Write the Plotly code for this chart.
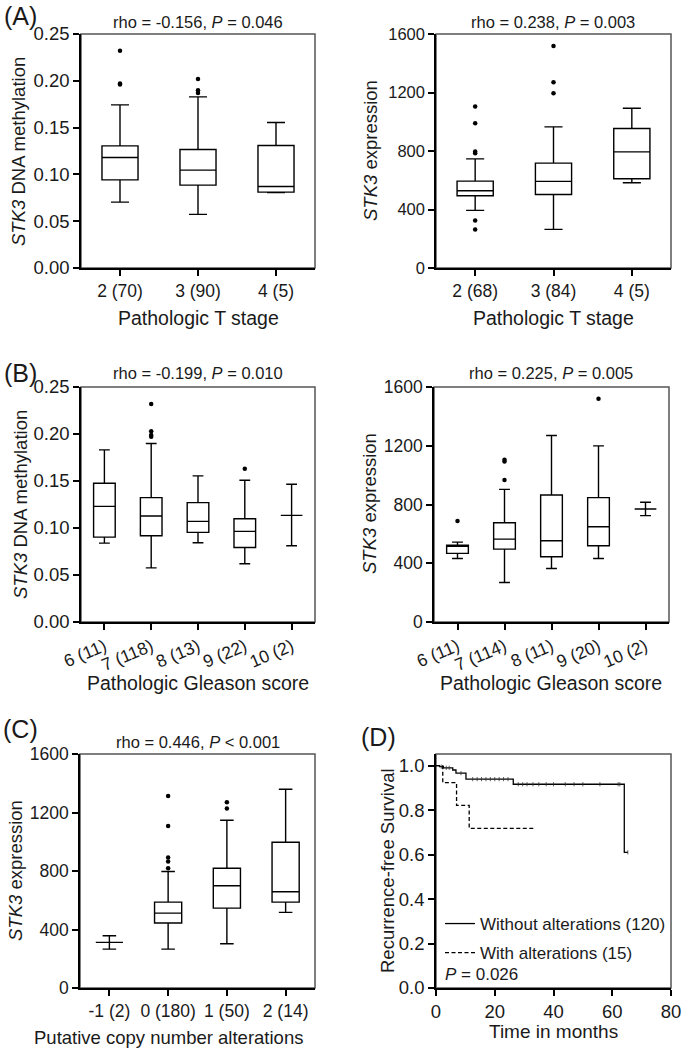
import plotly.graph_objects as go

W, H = 684, 1053
FONT = "Liberation Sans, Arial, sans-serif"

# ---- (A) Pathologic T stage ----
t_meth_cats = ["2 (70)", "3 (90)", "4 (5)"]
t_meth_lo = [0.0704, 0.0573, 0.0805]
t_meth_q1 = [0.0942, 0.0885, 0.0811]
t_meth_med = [0.1180, 0.1046, 0.0871]
t_meth_q3 = [0.1305, 0.1266, 0.1309]
t_meth_hi = [0.1743, 0.1828, 0.1554]
t_meth_out_x = ["2 (70)", "2 (70)", "2 (70)", "3 (90)", "3 (90)", "3 (90)"]
t_meth_out_y = [0.232, 0.197, 0.196, 0.202, 0.190, 0.187]

t_expr_cats = ["2 (68)", "3 (84)", "4 (5)"]
t_expr_lo = [394, 264, 583]
t_expr_q1 = [494, 503, 610]
t_expr_med = [528, 592, 794]
t_expr_q3 = [594, 717, 954]
t_expr_hi = [746, 965, 1092]
t_expr_out_x = ["2 (68)"] * 6 + ["3 (84)"] * 3
t_expr_out_y = [1104, 990, 796, 785, 325, 264, 1518, 1270, 1195]

# ---- (B) Pathologic Gleason score ----
g_meth_cats = ["6 (11)", "7 (118)", "8 (13)", "9 (22)", "10 (2)"]
g_meth_lo = [0.0839, 0.0576, 0.0843, 0.0619, 0.0811]
g_meth_q1 = [0.0903, 0.0917, 0.0953, 0.0793, 0.1134]
g_meth_med = [0.1230, 0.1127, 0.1070, 0.0964, 0.1134]
g_meth_q3 = [0.1476, 0.1323, 0.1270, 0.1099, 0.1134]
g_meth_hi = [0.1831, 0.1899, 0.1554, 0.1508, 0.1465]
g_meth_out_x = ["7 (118)"] * 4 + ["9 (22)"]
g_meth_out_y = [0.232, 0.203, 0.199, 0.197, 0.163]

g_expr_cats = ["6 (11)", "7 (114)", "8 (11)", "9 (20)", "10 (2)"]
g_expr_lo = [432, 269, 364, 432, 724]
g_expr_q1 = [467, 496, 444, 519, 769]
g_expr_med = [517, 564, 553, 649, 769]
g_expr_q3 = [523, 676, 865, 847, 769]
g_expr_hi = [544, 903, 1270, 1199, 815]
g_expr_out_x = ["6 (11)", "7 (114)", "7 (114)", "7 (114)", "9 (20)"]
g_expr_out_y = [687, 1104, 1092, 967, 1520]

# ---- (C) Putative copy number alterations ----
cna_cats = ["-1 (2)", "0 (180)", "1 (50)", "2 (14)"]
cna_lo = [266, 266, 303, 517]
cna_q1 = [312, 444, 546, 587]
cna_med = [312, 512, 699, 658]
cna_q3 = [312, 587, 819, 997]
cna_hi = [357, 797, 1147, 1359]
cna_out_x = ["0 (180)"] * 5 + ["1 (50)"] * 2
cna_out_y = [1313, 1108, 892, 865, 819, 1270, 1227]

# ---- (D) Kaplan-Meier ----
km_without_t = [0, 1.2, 2.5, 5.7, 6.8, 10.2, 26.3, 64.1, 65.3]
km_without_s = [1.0, 0.995, 0.99, 0.98, 0.966, 0.939, 0.916, 0.61, 0.61]
km_without_cens_t = [1.8, 3.5, 4.5, 8.5, 12.5, 14, 15.5, 17, 18.5, 20, 21.5, 23, 24.5,
                     28, 29.5, 31, 33, 35, 37.5, 40, 44, 47, 50, 55.8, 62, 62.6, 65.3]
km_with_t = [0, 2.3, 7.0, 11.3, 33.8]
km_with_s = [1.0, 0.923, 0.821, 0.718, 0.718]

titles = ["rho = -0.156, <i>P</i> = 0.046", "rho = 0.238, <i>P</i> = 0.003",
          "rho = -0.199, <i>P</i> = 0.010", "rho = 0.225, <i>P</i> = 0.005",
          "rho = 0.446, <i>P</i> < 0.001"]


def dom(x0, x1, y0, y1):
    return [x0 / W, x1 / W], [1 - y1 / H, 1 - y0 / H]


# plot areas in pixels: (left, right, top, bottom)
areas = [(81, 315, 34, 268), (436, 671, 34, 268),
         (81, 315, 387, 622), (434, 669, 387, 622),
         (80, 315, 754, 988), (436, 671, 754, 988)]

fig = go.Figure()

panels = [
    (t_meth_cats, t_meth_lo, t_meth_q1, t_meth_med, t_meth_q3, t_meth_hi, t_meth_out_x, t_meth_out_y),
    (t_expr_cats, t_expr_lo, t_expr_q1, t_expr_med, t_expr_q3, t_expr_hi, t_expr_out_x, t_expr_out_y),
    (g_meth_cats, g_meth_lo, g_meth_q1, g_meth_med, g_meth_q3, g_meth_hi, g_meth_out_x, g_meth_out_y),
    (g_expr_cats, g_expr_lo, g_expr_q1, g_expr_med, g_expr_q3, g_expr_hi, g_expr_out_x, g_expr_out_y),
    (cna_cats, cna_lo, cna_q1, cna_med, cna_q3, cna_hi, cna_out_x, cna_out_y),
]

for i, (cats, lo, q1, med, q3, hi, ox, oy) in enumerate(panels):
    n = "" if i == 0 else str(i + 1)
    fig.add_trace(go.Box(x=cats, q1=q1, median=med, q3=q3, lowerfence=lo, upperfence=hi,
                         xaxis="x" + n, yaxis="y" + n, boxpoints=False, whiskerwidth=0.5,
                         line=dict(color="black", width=1.4), fillcolor="white",
                         showlegend=False, hoverinfo="skip"))
    fig.add_trace(go.Scatter(x=ox, y=oy, mode="markers", xaxis="x" + n, yaxis="y" + n,
                             marker=dict(color="black", size=4.5), showlegend=False,
                             hoverinfo="skip"))

# KM curves
fig.add_trace(go.Scatter(x=km_without_t, y=km_without_s, mode="lines", line_shape="hv",
                         line=dict(color="black", width=1.3), xaxis="x6", yaxis="y6",
                         name="Without alterations (120)", legendgroup="a"))
fig.add_trace(go.Scatter(x=km_with_t, y=km_with_s, mode="lines", line_shape="hv",
                         line=dict(color="black", width=1.3, dash="4px,2.5px"),
                         xaxis="x6", yaxis="y6",
                         name="With alterations (15)", legendgroup="b"))
cens_y = []
for ct in km_without_cens_t:
    s = km_without_s[0]
    for tt, ss in zip(km_without_t, km_without_s):
        if tt <= ct:
            s = ss
    cens_y.append(s)
fig.add_trace(go.Scatter(x=km_without_cens_t, y=cens_y, mode="markers", xaxis="x6", yaxis="y6",
                         marker=dict(symbol="line-ns", size=3, line=dict(color="#333", width=0.8)),
                         showlegend=False, hoverinfo="skip"))

axis_common = dict(showline=True, linecolor="black", linewidth=1.5, ticks="outside",
                   ticklen=6, tickwidth=1.5, tickcolor="black", showgrid=False,
                   zeroline=False, fixedrange=True, automargin=False)
tick_sizes = [18.5, 16.5, 18.5, 17.5, 17.5, 18.5]

layout = dict(width=W, height=H,
              margin=dict(l=0, r=0, t=0, b=0, pad=0, autoexpand=False),
              paper_bgcolor="white", plot_bgcolor="white", boxgap=0.34,
              font=dict(family=FONT, color="#1a1a1a"),
              showlegend=True,
              legend=dict(x=440 / W, y=1 - 906 / H, xanchor="left", yanchor="top",
                          bgcolor="rgba(0,0,0,0)", font=dict(family=FONT, size=17),
                          tracegroupgap=4, itemwidth=30))

yranges = [[0, 0.25], [0, 1600], [0, 0.25], [0, 1600], [0, 1600]]
ydticks = [0.05, 400, 0.05, 400, 400]
yfmts = [".2f", "d", ".2f", "d", "d"]
shapes = []
for i in range(6):
    l, r, t, b = areas[i]
    xd, yd = dom(l, r, t, b)
    n = "" if i == 0 else str(i + 1)
    tf = dict(family=FONT, size=tick_sizes[i], color="#1a1a1a")
    xf = dict(family=FONT, size=17.5, color="#1a1a1a")
    if i < 5:
        cats = panels[i][0]
        layout["xaxis" + n] = dict(axis_common, domain=xd, anchor="y" + n, type="category",
                                   categoryorder="array", categoryarray=cats,
                                   range=[-0.5, len(cats) - 0.5], tickfont=xf,
                                   tickangle=-23 if i in (2, 3) else 0)
        layout["yaxis" + n] = dict(axis_common, domain=yd, anchor="x" + n, range=yranges[i],
                                   dtick=ydticks[i], tick0=0, tickformat=yfmts[i],
                                   tickfont=tf)
    else:
        layout["xaxis6"] = dict(axis_common, domain=xd, anchor="y6", range=[0, 80], dtick=20,
                                tickfont=tf)
        layout["yaxis6"] = dict(axis_common, domain=yd, anchor="x6", range=[0, 1.052],
                                dtick=0.2, tick0=0, tickformat=".1f", tickfont=tf)
    shapes.append(dict(type="rect", xref="x" + n + " domain", yref="y" + n + " domain",
                       x0=0, x1=1, y0=0, y1=1, line=dict(color="#555", width=1.5),
                       layer="below"))
layout["shapes"] = shapes

ann = []


def text(x, y, s, size, angle=0):
    ann.append(dict(x=x / W, y=1 - y / H, xref="paper", yref="paper", text=s, showarrow=False,
                    xanchor="center", yanchor="middle", textangle=angle,
                    font=dict(family=FONT, size=size, color="#1a1a1a")))


# panel letters
text(20, 16, "(A)", 25)
text(20, 373, "(B)", 25)
text(20, 729, "(C)", 25)
text(378, 737, "(D)", 25)
# subplot titles
text(198, 22, titles[0], 16.5)
text(553, 22, titles[1], 16.5)
text(198, 373, titles[2], 16.5)
text(551, 373, titles[3], 16.5)
text(198, 742, titles[4], 16.5)
# axis titles
text(198, 318, "Pathologic T stage", 19.5)
text(553, 318, "Pathologic T stage", 19.5)
text(198, 683, "Pathologic Gleason score", 19.5)
text(551, 683, "Pathologic Gleason score", 19.5)
text(168, 1037, "Putative copy number alterations", 18.5)
text(553, 1031, "Time in months", 19)
text(18, 152, "<i>STK3</i> DNA methylation", 18.5, -90)
text(370, 151, "<i>STK3</i> expression", 18.5, -90)
text(20, 505, "<i>STK3</i> DNA methylation", 18.5, -90)
text(369, 504, "<i>STK3</i> expression", 18.5, -90)
text(15, 871, "<i>STK3</i> expression", 18.5, -90)
text(387, 871, "Recurrence-free Survival", 18.5, -90)
ann.append(dict(x=443 / W, y=1 - 974 / H, xref="paper", yref="paper", text="<i>P</i> = 0.026",
                showarrow=False, xanchor="left", yanchor="middle",
                font=dict(family=FONT, size=17, color="#1a1a1a")))
layout["annotations"] = ann

fig.update_layout(layout)
# drop the browser's default 8px body margin so the figure fills the window exactly
fig.write_html("out.html", config={"displayModeBar": False},
               post_script="document.body.style.margin='0';document.body.style.overflow='hidden';")
